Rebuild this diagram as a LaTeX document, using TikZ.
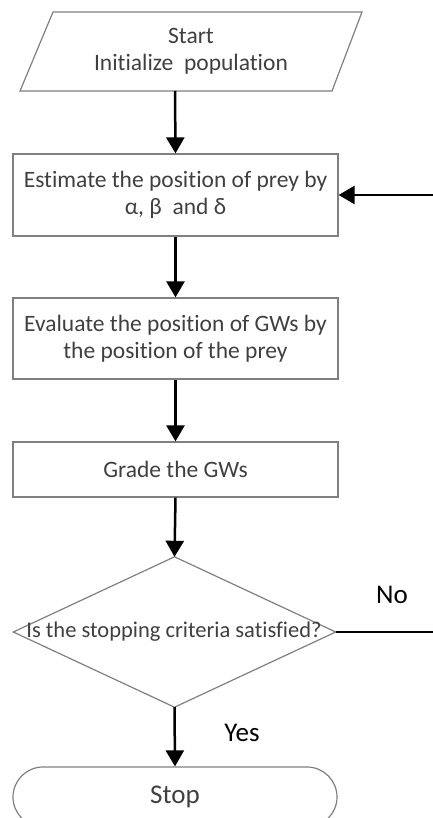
\documentclass[tikz,border=0pt]{standalone}
\usepackage{fontspec}
\setmainfont[Ligatures=NoCommon]{Carlito}
\usetikzlibrary{arrows.meta}
\definecolor{txt}{HTML}{404040}
\definecolor{edge}{HTML}{808080}
\tikzset{
  shapeline/.style={draw=edge, line width=1.2pt},
  stepbox/.style={shapeline, rectangle, minimum width=325pt, text=txt, align=center, font=\fontsize{23.5}{27}\selectfont, inner sep=0pt},
  blank/.style={rectangle, draw=none, text=txt, align=center, font=\fontsize{23.5}{27}\selectfont, inner sep=0pt},
  flow/.style={draw=black, line width=2.5pt, -{Triangle[length=16pt,width=18pt]}},
  lbl/.style={text=black, font=\fontsize{27}{30}\selectfont, inner sep=0pt}
}
\begin{document}
\begin{tikzpicture}[x=1pt,y=-1pt]
\useasboundingbox (0,0) rectangle (433,818);
\fill[white] (0,0) rectangle (433,818);
% start parallelogram
\node[blank, minimum width=312pt, minimum height=79pt] (start) at (191,51.5) {Start\\Initialize\ \ population};
\draw[shapeline] (53,12) -- (362,12) -- (332,91) -- (20,91) -- cycle;
% boxes
\node[stepbox, minimum height=82pt] (est) at (175.5,195) {Estimate the position of prey by\\α, β\ \ and δ};
\node[stepbox, minimum height=81pt] (eval) at (175.5,338.5) {Evaluate the position of GWs by\\the position of the prey};
\node[stepbox, minimum height=55pt] (grade) at (175.5,469.5) {Grade the GWs};
% decision
\node[blank, minimum width=322pt, minimum height=150pt] (dec) at (174.5,632) {};
\draw[shapeline] (dec.north) -- (dec.east) -- (dec.south) -- (dec.west) -- cycle;
\node[blank, font=\fontsize{22.5}{26}\selectfont] (dectxt) at (174,632) {Is the stopping criteria satisfied?};
% stop
\node[shapeline, rectangle, rounded corners=30pt, minimum width=324pt, minimum height=60pt, text=txt, font=\fontsize{27}{30}\selectfont, inner sep=0pt] (stop) at (175,797) {Stop};
% connectors
\draw[flow] (175,91) -- (est.north);
\draw[flow] (est.south) -- (eval.north);
\draw[flow] (eval.south) -- (grade.north);
\draw[flow] (grade.south) -- (dec.north);
\draw[flow] (dec.south) -- (stop.north);
\node[lbl] (yes) at (242,733) {Yes};
\coordinate (loopc) at (445,632);
\draw[flow] (dec.east) -- (loopc) |- (est.east);
\node[lbl] (no) at (392,595) {No};
\end{tikzpicture}
\end{document}
